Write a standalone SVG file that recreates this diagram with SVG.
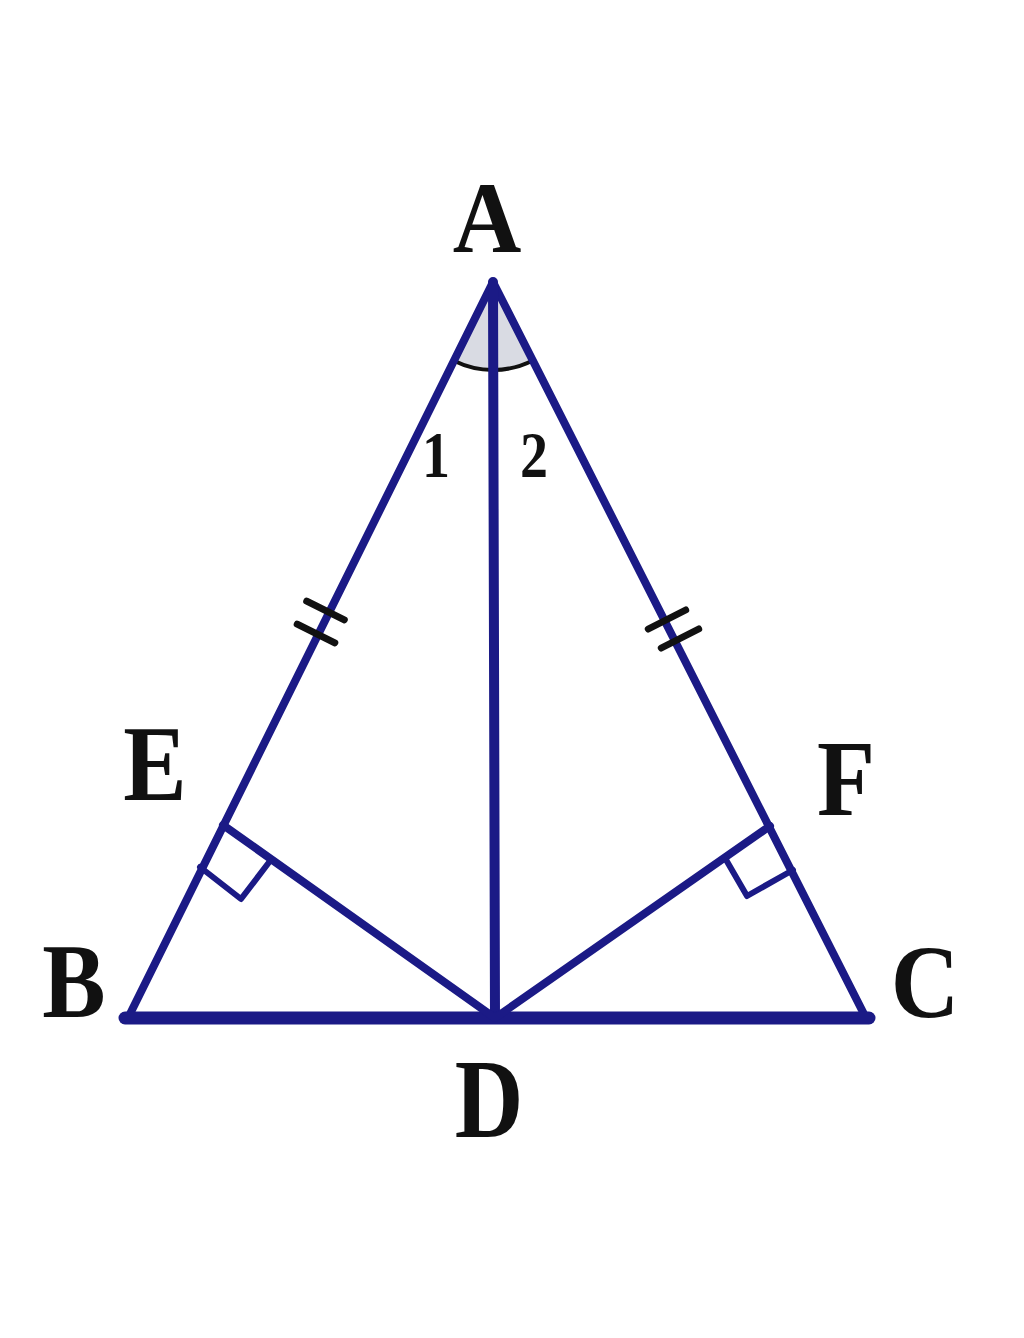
<svg xmlns="http://www.w3.org/2000/svg" width="1024" height="1338" viewBox="0 0 1024 1338">
<style>
.ln{stroke:#1b1a86;fill:none;stroke-linecap:round;stroke-linejoin:round}
.tk{stroke:#111;stroke-width:7;stroke-linecap:round;fill:none}
.lbl{font-family:"Liberation Serif","Times New Roman",serif;font-weight:bold;font-size:95px;fill:#111;text-anchor:middle}
.num{font-family:"Liberation Serif","Times New Roman",serif;font-weight:bold;font-size:56px;fill:#111;text-anchor:middle}
</style>
<rect width="1024" height="1338" fill="#fff"/>
<g id="angle-A">
<path d="M493 282 L453.9 360.8 A88 88 0 0 0 532.8 360.5 Z" fill="#d9dbe3"/>
<path d="M453.9 360.8 A88 88 0 0 0 532.8 360.5" fill="none" stroke="#111" stroke-width="4"/>
</g>
<g id="connectors">
<path class="ln" stroke-width="8" d="M128 1018 L493 282 L866 1018"/>
<path class="ln" stroke-width="10" d="M493 282 L495 1018"/>
<path class="ln" stroke-width="13" d="M125 1018 L869 1018"/>
<path class="ln" stroke-width="8" d="M223 825 L495 1018 L770 826"/>
<polyline class="ln" stroke-width="6" points="200,867 241,899 270,861"/>
<polyline class="ln" stroke-width="6" points="725,858 747,896 793,870"/>
<line class="tk" x1="306.7" y1="601.2" x2="344.3" y2="619.8"/>
<line class="tk" x1="297.2" y1="624.2" x2="334.8" y2="642.8"/>
<line class="tk" x1="648.3" y1="629" x2="685.7" y2="610"/>
<line class="tk" x1="661.3" y1="648" x2="698.7" y2="629"/>
</g>
<g id="node-A"><text class="lbl" transform="translate(487,252) scale(1,1.06)">A</text></g>
<g id="node-E"><text class="lbl" transform="translate(155,800) scale(1,1.14)">E</text></g>
<g id="node-F"><text class="lbl" transform="translate(846,815) scale(1,1.14)">F</text></g>
<g id="node-B"><text class="lbl" transform="translate(74,1017) scale(1,1.12)">B</text></g>
<g id="node-C"><text class="lbl" transform="translate(925,1017) scale(1,1.1)">C</text></g>
<g id="node-D"><text class="lbl" transform="translate(489,1137) scale(1,1.18)">D</text></g>
<g id="label-1"><text class="num" transform="translate(436,477) scale(1,1.18)">1</text></g>
<g id="label-2"><text class="num" transform="translate(534,477) scale(1,1.18)">2</text></g>
</svg>
